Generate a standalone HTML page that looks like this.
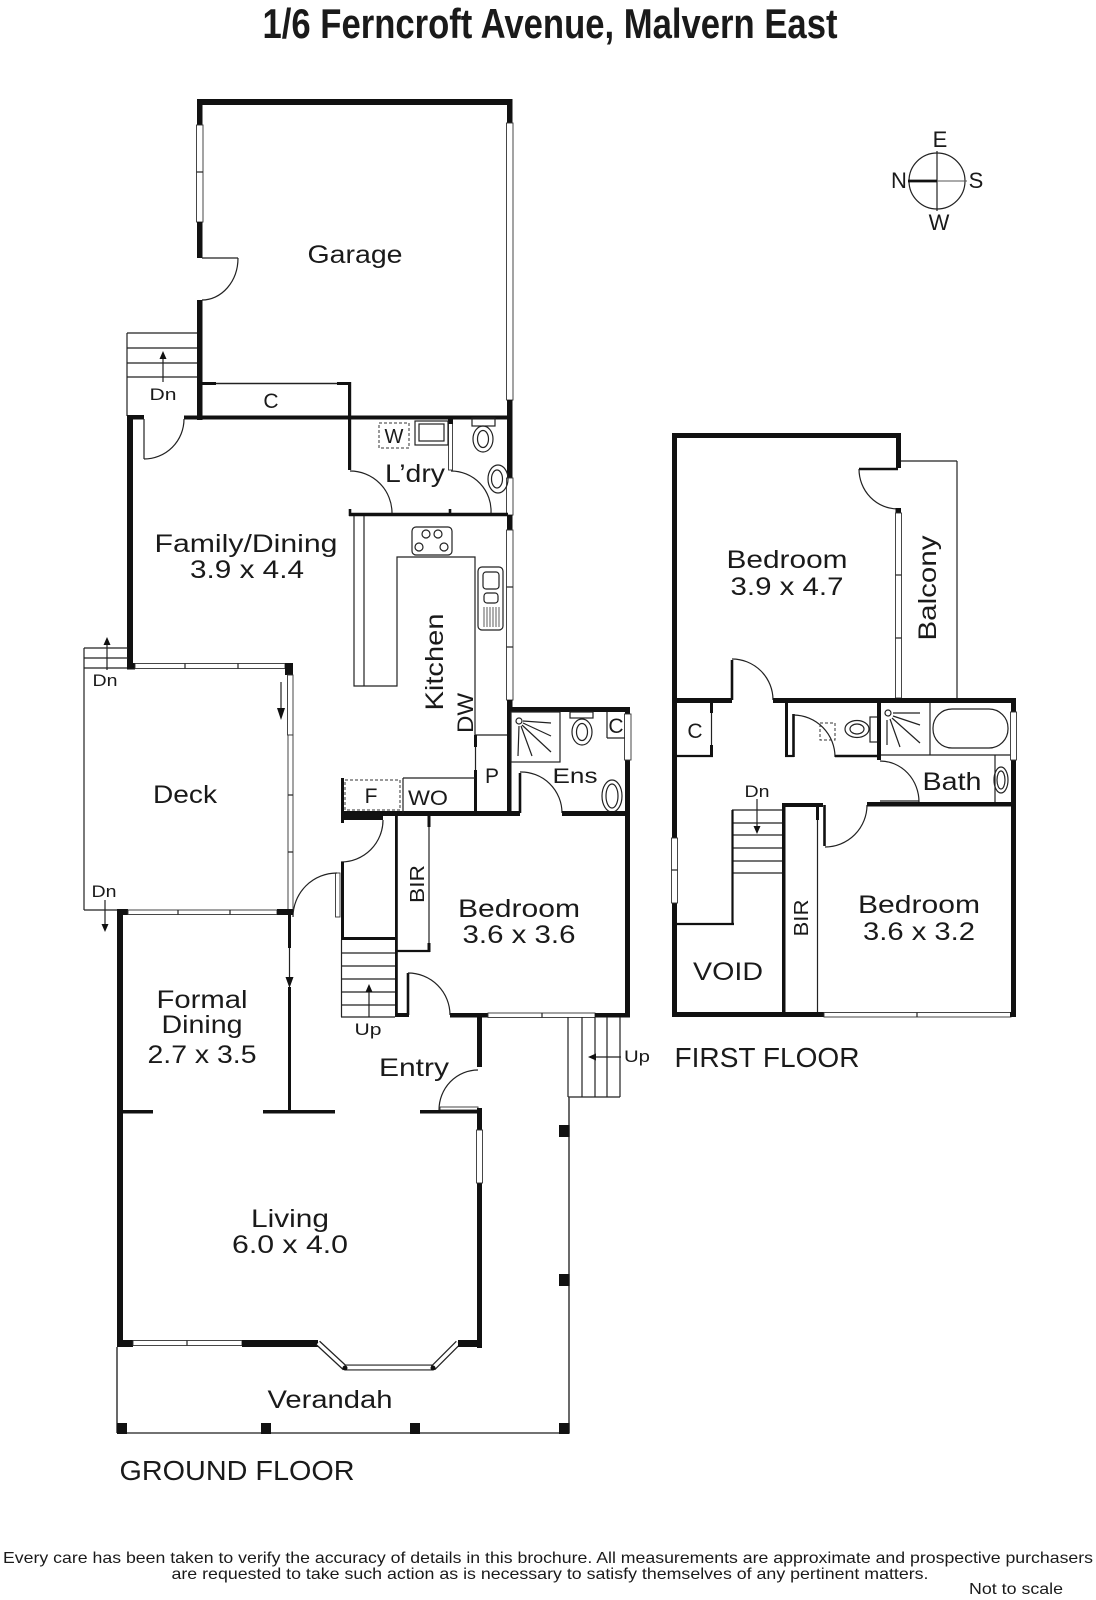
<!DOCTYPE html>
<html><head><meta charset="utf-8">
<style>
html,body{margin:0;padding:0;background:#fff;}
svg{display:block;}
text{font-family:"Liberation Sans",sans-serif;fill:#1a1a1a;}
.w{fill:#111;}
.t{stroke:#222;stroke-width:1.2;fill:none;}
.m{stroke:#111;stroke-width:2.6;fill:none;}
.win{fill:#fff;stroke:#333;stroke-width:0.9;}
.l{font-size:25px;text-anchor:middle;}
.s{font-size:21px;text-anchor:middle;}
.d{font-size:17px;text-anchor:middle;}
.ft{font-family:"Liberation Sans Narrow","Liberation Sans",sans-serif;font-size:16px;text-anchor:middle;}
</style></head><body>
<svg xmlns="http://www.w3.org/2000/svg" width="1096" height="1600" viewBox="0 0 1096 1600">
<rect width="1096" height="1600" fill="#fff"/>

<!-- Title -->
<text x="550" y="38" style="font-family:'Liberation Sans Narrow','Liberation Sans',sans-serif;font-weight:bold;font-size:42px" text-anchor="middle" textLength="575" lengthAdjust="spacingAndGlyphs">1/6 Ferncroft Avenue, Malvern East</text>

<!-- ================= GROUND FLOOR ================= -->
<!-- Garage -->
<rect class="w" x="197" y="99" width="315.5" height="6"/>
<rect class="w" x="197" y="99" width="5.5" height="26"/>
<rect class="win" x="196.5" y="125" width="6.5" height="97"/>
<line class="t" x1="196.5" y1="172" x2="203" y2="172"/>
<rect class="w" x="197" y="222" width="5.5" height="36"/>
<line class="t" x1="202" y1="258" x2="238" y2="258"/>
<path class="t" d="M238 258 A36 42 0 0 1 202 300"/>
<rect class="w" x="197" y="300" width="5.5" height="120"/>

<rect class="w" x="507" y="99" width="5.5" height="24"/>
<rect class="win" x="506.5" y="123" width="6.5" height="277"/>
<rect class="w" x="507" y="400" width="5.5" height="78"/>
<rect class="win" x="506.5" y="478" width="6.5" height="37"/>
<rect class="w" x="507" y="515" width="5.5" height="15"/>
<rect class="win" x="506.5" y="530" width="6.5" height="170"/>
<line class="t" x1="506.5" y1="587" x2="513" y2="587"/>
<line class="t" x1="506.5" y1="647" x2="513" y2="647"/>
<rect class="w" x="507" y="700" width="5.5" height="12"/>

<text class="l" x="355" y="263" textLength="95" lengthAdjust="spacingAndGlyphs">Garage</text>

<!-- garage stairs -->
<line class="t" x1="127" y1="333" x2="197" y2="333"/>
<line class="t" x1="127" y1="348" x2="197" y2="348"/>
<line class="t" x1="127" y1="363" x2="197" y2="363"/>
<line class="t" x1="127" y1="377" x2="197" y2="377"/>
<line class="t" x1="127" y1="333" x2="127" y2="416"/>
<line class="t" x1="163" y1="382" x2="163" y2="358"/>
<path d="M163 351 L159.5 359 L166.5 359Z" fill="#111"/>
<text class="d" x="163" y="400" textLength="27" lengthAdjust="spacingAndGlyphs">Dn</text>

<!-- C closet -->
<line x1="202" y1="383.5" x2="349" y2="383.5" stroke="#222" stroke-width="1.5"/>
<rect class="w" x="202" y="382" width="14" height="3"/>
<rect class="w" x="337" y="382" width="13" height="3"/>
<rect class="w" x="348" y="382" width="3.2" height="88"/>
<text class="s" x="271" y="408">C</text>

<!-- family top wall & door -->
<rect class="w" x="127" y="415" width="17" height="4.5"/>
<rect class="w" x="184" y="415.5" width="328" height="4"/>
<rect class="w" x="127" y="415" width="6" height="254"/>
<line class="t" x1="144" y1="419" x2="144" y2="459"/>
<path class="t" d="M144 459 A40 40 0 0 0 184 419"/>

<!-- Laundry -->
<path class="t" d="M350 471 A42 42 0 0 1 392 513"/>
<path class="t" d="M451 471 A40 40 0 0 1 491 513"/>
<rect class="win" x="448.5" y="423" width="4" height="47"/>
<rect class="w" x="448" y="419" width="5" height="5"/>
<line x1="349" y1="514.5" x2="508" y2="514.5" stroke="#111" stroke-width="3.5"/>
<line class="m" x1="350" y1="509" x2="350" y2="516"/>
<line class="m" x1="450" y1="509" x2="450" y2="516"/>
<rect x="379" y="423" width="30" height="25" fill="none" stroke="#333" stroke-width="1" stroke-dasharray="3 2"/>
<text x="394" y="443" font-size="20" text-anchor="middle">W</text>
<rect class="t" x="415" y="421" width="33" height="24"/>
<rect class="t" x="419" y="424" width="25" height="17"/>
<rect class="t" x="472" y="418" width="23" height="8"/>
<ellipse class="t" cx="483" cy="439" rx="10" ry="13"/>
<ellipse class="t" cx="483" cy="439" rx="5.5" ry="8.5"/>
<ellipse class="t" cx="498" cy="479" rx="10" ry="14"/>
<ellipse class="t" cx="497" cy="479" rx="5.5" ry="9"/>
<text class="l" x="415" y="482" font-size="24" textLength="60" lengthAdjust="spacingAndGlyphs">L’dry</text>

<!-- Kitchen -->
<polyline class="t" points="354,516 354,686 397,686 397,557 475,557 475,735 507,735"/>
<line class="t" x1="364" y1="516" x2="364" y2="686"/>
<rect class="t" x="412" y="527" width="40" height="28" rx="4"/>
<circle class="t" cx="426" cy="534" r="4"/>
<circle class="t" cx="438" cy="534" r="4"/>
<circle class="t" cx="419" cy="547" r="4"/>
<circle class="t" cx="444" cy="547" r="4"/>
<rect class="t" x="478" y="567" width="25" height="63" rx="4"/>
<rect class="t" x="483" y="572" width="16" height="17" rx="3"/>
<rect class="t" x="484" y="593" width="14" height="10" rx="3"/>
<g stroke="#333" stroke-width="0.8">
<line x1="484" y1="607" x2="484" y2="627"/><line x1="487" y1="607" x2="487" y2="627"/>
<line x1="490" y1="607" x2="490" y2="627"/><line x1="493" y1="607" x2="493" y2="627"/>
<line x1="496" y1="607" x2="496" y2="627"/><line x1="499" y1="607" x2="499" y2="627"/>
</g>
<text class="l" transform="translate(443,662) rotate(-90)" x="0" y="0" textLength="97" lengthAdjust="spacingAndGlyphs">Kitchen</text>
<text transform="translate(473,713) rotate(-90)" x="0" y="0" font-size="22" text-anchor="middle" textLength="40" lengthAdjust="spacingAndGlyphs">DW</text>

<text class="l" x="246" y="552" textLength="183" lengthAdjust="spacingAndGlyphs">Family/Dining</text>
<text class="l" x="247" y="578" textLength="114" lengthAdjust="spacingAndGlyphs">3.9 x 4.4</text>

<!-- Ensuite -->
<rect class="w" x="507" y="707" width="123" height="5"/>
<rect class="w" x="507" y="707" width="4.5" height="108"/>
<rect class="w" x="625" y="707" width="5" height="310"/>
<rect class="win" x="624.5" y="714" width="6.5" height="46"/>
<rect class="t" x="511" y="712" width="49" height="50"/>
<circle class="t" cx="519" cy="721" r="3"/>
<g class="t">
<line x1="523" y1="721" x2="551" y2="723"/>
<line x1="523" y1="723" x2="551" y2="736"/>
<line x1="522" y1="725" x2="551" y2="752"/>
<line x1="521" y1="726" x2="532" y2="756"/>
<line x1="519" y1="726" x2="518" y2="756"/>
</g>
<rect class="t" x="570" y="712" width="23" height="6"/>
<ellipse class="t" cx="582" cy="732" rx="10" ry="13"/>
<ellipse class="t" cx="582" cy="732" rx="5.5" ry="8.5"/>
<line class="t" x1="607" y1="712" x2="607" y2="738"/>
<line class="t" x1="607" y1="738" x2="625" y2="738"/>
<text class="s" x="616" y="733" font-size="19">C</text>
<ellipse class="t" cx="612" cy="796" rx="10" ry="16"/>
<ellipse class="t" cx="612" cy="796" rx="6" ry="12"/>
<text class="s" x="575" y="783" font-size="22" textLength="45" lengthAdjust="spacingAndGlyphs">Ens</text>

<!-- ens door & bedroom top wall -->
<rect class="w" x="341" y="811" width="179" height="5"/>
<line class="m" x1="520" y1="773" x2="520" y2="813"/>
<path class="t" d="M520 772 A41 41 0 0 1 562 813"/>
<rect class="w" x="562" y="811" width="68" height="5"/>

<!-- P, WO, F -->
<rect class="w" x="474" y="735" width="3" height="12"/>
<line class="t" x1="475.5" y1="747" x2="475.5" y2="770"/>
<rect class="w" x="474" y="770" width="3" height="43"/>
<line class="t" x1="403" y1="778" x2="475" y2="778"/>
<line class="t" x1="403" y1="778" x2="403" y2="813"/>
<rect x="345" y="780" width="55" height="30" fill="none" stroke="#333" stroke-width="1" stroke-dasharray="3 2"/>
<rect class="w" x="341" y="778" width="3" height="45"/>
<text class="s" x="371" y="803">F</text>
<text class="s" x="428" y="805" font-size="22" textLength="40" lengthAdjust="spacingAndGlyphs">WO</text>
<text class="s" x="492" y="783">P</text>

<!-- hallway door below F -->
<rect class="w" x="341" y="816" width="42" height="4"/>
<path class="t" d="M383 820 A42 42 0 0 1 341 862"/>
<rect class="w" x="341" y="862" width="3" height="78"/>
<!-- deck door -->
<rect class="win" x="335.5" y="873" width="4.5" height="44"/>
<path class="t" d="M337 873 A44 44 0 0 0 293 917"/>

<!-- stairs up -->
<rect class="w" x="341" y="937" width="56" height="3"/>
<g class="t">
<line x1="341" y1="953" x2="395" y2="953"/><line x1="341" y1="966" x2="395" y2="966"/>
<line x1="341" y1="979" x2="395" y2="979"/><line x1="341" y1="992" x2="395" y2="992"/>
<line x1="341" y1="1005" x2="395" y2="1005"/><line x1="341" y1="1017" x2="395" y2="1017"/>
<line x1="341.5" y1="940" x2="341.5" y2="1017"/>
<line x1="369" y1="1017" x2="369" y2="991"/>
</g>
<path d="M369 984 L365.5 992 L372.5 992Z" fill="#111"/>
<text class="d" x="368" y="1035" font-size="18" textLength="27" lengthAdjust="spacingAndGlyphs">Up</text>

<!-- BIR -->
<rect class="w" x="395" y="813" width="2.8" height="204"/>
<rect class="w" x="427.5" y="813" width="3" height="14"/>
<line class="t" x1="429" y1="827" x2="429" y2="943"/>
<rect class="w" x="427.5" y="943" width="3" height="9"/>
<line x1="397" y1="951" x2="430" y2="951" stroke="#111" stroke-width="2.2"/>
<text transform="translate(424,884) rotate(-90)" x="0" y="0" font-size="20" text-anchor="middle" textLength="38" lengthAdjust="spacingAndGlyphs">BIR</text>

<text class="l" x="519" y="917" textLength="122" lengthAdjust="spacingAndGlyphs">Bedroom</text>
<text class="l" x="519" y="943" textLength="113" lengthAdjust="spacingAndGlyphs">3.6 x 3.6</text>

<!-- bedroom bottom wall -->
<rect class="w" x="395" y="1013" width="14" height="4"/>
<line class="m" x1="408" y1="973" x2="408" y2="1015"/>
<path class="t" d="M408 973 A42 42 0 0 1 450 1015"/>
<rect class="w" x="450" y="1013" width="38" height="4.5"/>
<rect class="win" x="488" y="1013" width="107" height="4.5"/>
<line class="t" x1="542" y1="1013" x2="542" y2="1017.5"/>
<rect class="w" x="595" y="1013" width="35" height="4.5"/>

<!-- entry -->
<rect class="w" x="477" y="1015" width="5" height="52"/>
<rect class="win" x="440" y="1107" width="38" height="3"/>
<path class="t" d="M439 1110 A39 40 0 0 1 478 1070"/>
<text class="l" x="414" y="1076" textLength="70" lengthAdjust="spacingAndGlyphs">Entry</text>

<!-- external stairs -->
<g class="t">
<line x1="568" y1="1017" x2="568" y2="1097"/><line x1="582" y1="1017" x2="582" y2="1097"/>
<line x1="595" y1="1017" x2="595" y2="1097"/><line x1="607" y1="1017" x2="607" y2="1097"/>
<line x1="620" y1="1017" x2="620" y2="1097"/><line x1="568" y1="1097" x2="620" y2="1097"/>
<line x1="621" y1="1057" x2="595" y2="1057"/>
</g>
<path d="M588 1057 L596 1053.5 L596 1060.5Z" fill="#111"/>
<text class="d" x="637" y="1062" font-size="18" textLength="26" lengthAdjust="spacingAndGlyphs">Up</text>

<!-- Deck -->
<g class="t">
<line x1="84" y1="648" x2="84" y2="910"/>
<line x1="84" y1="910" x2="117" y2="910"/>
<line x1="84" y1="648" x2="128" y2="648"/>
<line x1="84" y1="658" x2="128" y2="658"/>
<line x1="84" y1="668" x2="128" y2="668"/>
<line x1="107" y1="670" x2="107" y2="645"/>
<line x1="105" y1="900" x2="105" y2="925"/>
<line x1="281" y1="682" x2="281" y2="710"/>
</g>
<path d="M107 637 L103.5 645 L110.5 645Z" fill="#111"/>
<path d="M105 932 L101.5 924 L108.5 924Z" fill="#111"/>
<path d="M281 720 L277 708 L285 708Z" fill="#111"/>
<text class="d" x="105" y="686" textLength="25" lengthAdjust="spacingAndGlyphs">Dn</text>
<text class="d" x="104" y="897" textLength="25" lengthAdjust="spacingAndGlyphs">Dn</text>
<rect class="w" x="127" y="663" width="8" height="6.5"/>
<rect class="win" x="135" y="663.5" width="150" height="5"/>
<line class="t" x1="185" y1="663.5" x2="185" y2="668.5"/>
<line class="t" x1="238" y1="663.5" x2="238" y2="668.5"/>
<rect class="w" x="285" y="663" width="8" height="12"/>
<rect class="win" x="287.5" y="675" width="5.5" height="60"/>
<rect class="win" x="288" y="735" width="5" height="175"/>
<line class="t" x1="288" y1="795" x2="293" y2="795"/>
<line class="t" x1="288" y1="852" x2="293" y2="852"/>
<text class="l" x="185" y="803" textLength="64" lengthAdjust="spacingAndGlyphs">Deck</text>

<!-- Formal dining -->
<rect class="w" x="117" y="909" width="11" height="6"/>
<rect class="win" x="128" y="910" width="149" height="4.5"/>
<line class="t" x1="178" y1="910" x2="178" y2="914.5"/>
<line class="t" x1="230" y1="910" x2="230" y2="914.5"/>
<rect class="w" x="277" y="909" width="16" height="6"/>
<rect class="w" x="117" y="909" width="6" height="438"/>
<rect class="w" x="288" y="915" width="3" height="33"/>
<line class="t" x1="289.5" y1="948" x2="289.5" y2="978"/>
<path d="M289.5 988 L285.5 977 L293.5 977Z" fill="#111"/>
<rect class="w" x="288" y="987" width="3" height="126"/>
<text class="l" x="202" y="1008" textLength="91" lengthAdjust="spacingAndGlyphs">Formal</text>
<text class="l" x="202" y="1033" textLength="81" lengthAdjust="spacingAndGlyphs">Dining</text>
<text class="l" x="202" y="1063" textLength="109" lengthAdjust="spacingAndGlyphs">2.7 x 3.5</text>

<!-- Living -->
<rect class="w" x="123" y="1110" width="30" height="3.5"/>
<rect class="w" x="263" y="1110" width="72" height="3.5"/>
<rect class="w" x="420" y="1110" width="62" height="3.5"/>
<rect class="w" x="477" y="1108" width="5" height="240"/>
<rect class="win" x="476.5" y="1130" width="6" height="53"/>
<rect class="w" x="117" y="1340" width="16" height="7"/>
<rect class="win" x="133" y="1340.5" width="109" height="5"/>
<line class="t" x1="187" y1="1340.5" x2="187" y2="1345.5"/>
<rect class="w" x="242" y="1340" width="76" height="7"/>
<line x1="318" y1="1343" x2="345" y2="1368" stroke="#222" stroke-width="6"/>
<line x1="318" y1="1343" x2="345" y2="1368" stroke="#fff" stroke-width="3.5"/>
<line x1="345" y1="1367.5" x2="433" y2="1367.5" stroke="#222" stroke-width="6"/>
<line x1="345" y1="1367.5" x2="433" y2="1367.5" stroke="#fff" stroke-width="3.8"/>
<line x1="433" y1="1368" x2="458" y2="1343" stroke="#222" stroke-width="6"/>
<line x1="433" y1="1368" x2="458" y2="1343" stroke="#fff" stroke-width="3.5"/>
<circle cx="345" cy="1368" r="2.5" fill="#111"/>
<circle cx="433" cy="1368" r="2.5" fill="#111"/>
<rect class="w" x="458" y="1340" width="24" height="7"/>
<text class="l" x="290" y="1227" textLength="78" lengthAdjust="spacingAndGlyphs">Living</text>
<text class="l" x="290" y="1253" textLength="116" lengthAdjust="spacingAndGlyphs">6.0 x 4.0</text>

<!-- Verandah -->
<g stroke="#444" stroke-width="1.6" fill="none">
<line x1="117" y1="1347" x2="117" y2="1433"/>
<line x1="117" y1="1433" x2="569" y2="1433"/>
<line x1="569" y1="1097" x2="569" y2="1433"/>
</g>
<rect class="w" x="117" y="1423" width="10" height="11"/>
<rect class="w" x="261" y="1423" width="10" height="11"/>
<rect class="w" x="410" y="1423" width="10" height="11"/>
<rect class="w" x="559" y="1423" width="10.5" height="11"/>
<rect class="w" x="559" y="1125" width="10.5" height="12"/>
<rect class="w" x="559" y="1274" width="10.5" height="12"/>
<text class="l" x="330" y="1408" textLength="125" lengthAdjust="spacingAndGlyphs">Verandah</text>

<text x="237" y="1480" font-size="28" text-anchor="middle" textLength="235" lengthAdjust="spacingAndGlyphs">GROUND FLOOR</text>

<!-- ================= FIRST FLOOR ================= -->
<rect class="w" x="672" y="433" width="229" height="5"/>
<rect class="w" x="672" y="433" width="5" height="584"/>
<rect class="win" x="671.5" y="838" width="6" height="65"/>
<line class="t" x1="671.5" y1="870" x2="677.5" y2="870"/>
<rect class="w" x="896" y="433" width="5" height="35"/>
<line class="m" x1="898" y1="469" x2="859" y2="469"/>
<path class="t" d="M859 469 A39 40 0 0 0 898 509"/>
<rect class="w" x="895.5" y="508" width="5.5" height="5"/>
<rect class="win" x="895.5" y="513" width="6" height="185"/>
<line class="t" x1="895.5" y1="575" x2="901.5" y2="575"/>
<line class="t" x1="895.5" y1="638" x2="901.5" y2="638"/>
<line class="t" x1="901" y1="461" x2="957" y2="461"/>
<line class="t" x1="957" y1="461" x2="957" y2="700"/>
<text class="l" x="787" y="568" textLength="121" lengthAdjust="spacingAndGlyphs">Bedroom</text>
<text class="l" x="787" y="595" textLength="113" lengthAdjust="spacingAndGlyphs">3.9 x 4.7</text>
<text class="l" transform="translate(936,588) rotate(-90)" x="0" y="0" textLength="105" lengthAdjust="spacingAndGlyphs">Balcony</text>

<!-- bedroom1 bottom wall & door -->
<rect class="w" x="672" y="698" width="60" height="5"/>
<line class="m" x1="732" y1="660" x2="732" y2="700"/>
<path class="t" d="M732 659 A41 41 0 0 1 773 700"/>
<rect class="w" x="773" y="698" width="243" height="5"/>

<!-- C closet FF -->
<rect class="w" x="710" y="703" width="3" height="10"/>
<line class="t" x1="711.5" y1="713" x2="711.5" y2="745"/>
<rect class="w" x="710" y="745" width="3" height="12"/>
<line x1="677" y1="756" x2="713" y2="756" stroke="#111" stroke-width="2.2"/>
<text class="s" x="695" y="738" font-size="20">C</text>

<!-- WC -->
<rect class="w" x="785" y="703" width="3" height="54"/>
<line x1="785" y1="756" x2="794" y2="756" stroke="#111" stroke-width="2.2"/>
<line class="m" x1="793.5" y1="714" x2="793.5" y2="757"/>
<path class="t" d="M793.5 715 A42 42 0 0 1 835 757"/>
<line x1="835" y1="756" x2="881" y2="756" stroke="#111" stroke-width="2.6"/>
<rect x="820" y="723" width="15" height="17" fill="none" stroke="#333" stroke-width="1" stroke-dasharray="3 2"/>
<ellipse class="t" cx="857" cy="729" rx="12" ry="8.5"/>
<ellipse class="t" cx="857" cy="729" rx="7" ry="5"/>
<rect class="t" x="870" y="717" width="8" height="25"/>

<!-- Bath -->
<rect class="w" x="877" y="703" width="4" height="57"/>
<line class="t" x1="930" y1="703" x2="930" y2="755"/>
<line class="t" x1="881" y1="755" x2="1011" y2="755"/>
<circle class="t" cx="888" cy="713" r="3"/>
<g class="t">
<line x1="893" y1="713" x2="920" y2="713"/>
<line x1="893" y1="716" x2="920" y2="725"/>
<line x1="892" y1="718" x2="920" y2="743"/>
<line x1="890" y1="719" x2="900" y2="747"/>
<line x1="887" y1="720" x2="887" y2="745"/>
</g>
<rect class="t" x="933" y="709" width="75" height="39" rx="19"/>
<line class="t" x1="995" y1="755" x2="995" y2="803"/>
<ellipse class="t" cx="1001" cy="780" rx="7" ry="13"/>
<ellipse class="t" cx="1001" cy="780" rx="4" ry="9"/>
<line class="t" x1="880" y1="801" x2="919" y2="801"/>
<path class="t" d="M919 802 A39 41 0 0 0 880 761"/>
<rect class="w" x="1011" y="698" width="5" height="319"/>
<rect class="win" x="1010.5" y="712" width="6" height="48"/>
<text class="l" x="952" y="790" textLength="59" lengthAdjust="spacingAndGlyphs">Bath</text>

<!-- bedroom2 top wall & door -->
<rect class="w" x="782" y="803" width="41" height="4"/>
<line class="m" x1="824.5" y1="805" x2="824.5" y2="846"/>
<path class="t" d="M825 847 A42 42 0 0 0 867 805"/>
<rect class="w" x="867" y="802" width="149" height="4.5"/>

<!-- BIR FF -->
<rect class="w" x="782" y="803" width="3.5" height="214"/>
<rect class="w" x="816" y="806" width="3" height="14"/>
<line class="t" x1="817.5" y1="820" x2="817.5" y2="1013"/>
<text transform="translate(808,918) rotate(-90)" x="0" y="0" font-size="20" text-anchor="middle" textLength="37" lengthAdjust="spacingAndGlyphs">BIR</text>

<!-- stairs FF -->
<g class="t">
<line x1="732" y1="810" x2="782" y2="810"/><line x1="732" y1="823" x2="782" y2="823"/>
<line x1="732" y1="835" x2="782" y2="835"/><line x1="732" y1="848" x2="782" y2="848"/>
<line x1="732" y1="861" x2="782" y2="861"/><line x1="732" y1="873" x2="782" y2="873"/>
<line x1="757" y1="799" x2="757" y2="826"/>
</g>
<line x1="732.5" y1="810" x2="732.5" y2="925" stroke="#111" stroke-width="2.2"/>
<line x1="672" y1="924" x2="734" y2="924" stroke="#111" stroke-width="2.2"/>
<path d="M757 834 L753.5 826 L760.5 826Z" fill="#111"/>
<text class="d" x="757" y="797" font-size="18" textLength="25" lengthAdjust="spacingAndGlyphs">Dn</text>
<text class="l" x="728" y="980" textLength="70" lengthAdjust="spacingAndGlyphs">VOID</text>

<text class="l" x="919" y="913" textLength="122" lengthAdjust="spacingAndGlyphs">Bedroom</text>
<text class="l" x="919" y="940" textLength="112" lengthAdjust="spacingAndGlyphs">3.6 x 3.2</text>

<!-- FF bottom -->
<rect class="w" x="672" y="1012" width="152" height="5"/>
<rect class="win" x="824" y="1012.5" width="187" height="4.5"/>
<line class="t" x1="917" y1="1012.5" x2="917" y2="1017"/>
<rect class="w" x="1010" y="1012" width="6" height="5"/>

<text x="767" y="1067" font-size="28" text-anchor="middle" textLength="185" lengthAdjust="spacingAndGlyphs">FIRST FLOOR</text>

<!-- Compass -->
<circle class="t" cx="937" cy="181" r="28"/>
<line class="t" x1="937" y1="151" x2="937" y2="211"/>
<line x1="937" y1="181" x2="967" y2="181" stroke="#555" stroke-width="1"/>
<line x1="908" y1="181" x2="937" y2="181" stroke="#111" stroke-width="2.8"/>
<text x="940" y="147" font-size="22" text-anchor="middle">E</text>
<text x="899" y="188" font-size="22" text-anchor="middle">N</text>
<text x="976" y="188" font-size="22" text-anchor="middle">S</text>
<text x="939" y="230" font-size="22" text-anchor="middle">W</text>

<!-- Footer -->
<text class="ft" x="548" y="1563" textLength="1090" lengthAdjust="spacingAndGlyphs">Every care has been taken to verify the accuracy of details in this brochure.  All measurements are approximate and prospective purchasers</text>
<text class="ft" x="550" y="1579" textLength="757" lengthAdjust="spacingAndGlyphs">are requested to take such action as is necessary to satisfy themselves of any pertinent matters.</text>
<text class="ft" x="1016" y="1594" textLength="94" lengthAdjust="spacingAndGlyphs">Not to scale</text>
</svg>
</body></html>
